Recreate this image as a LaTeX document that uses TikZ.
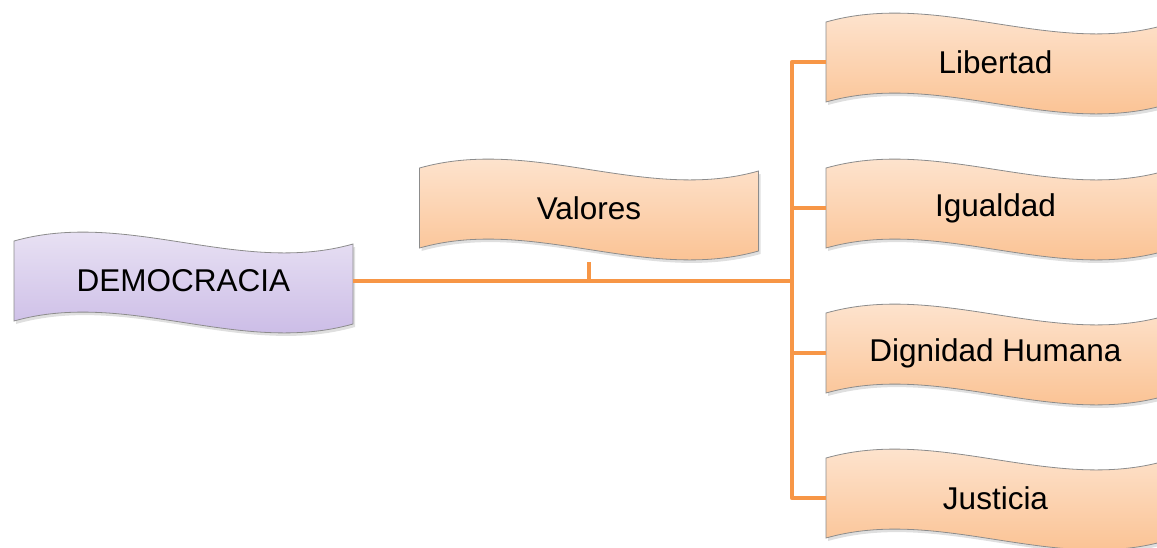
\documentclass[tikz,border=0pt]{standalone}
\usepackage{fontspec}
\setmainfont{Liberation Sans}
\usetikzlibrary{calc,shadows,backgrounds}
\definecolor{lineor}{HTML}{F79646}
\definecolor{ortop}{RGB}{254,234,218}
\definecolor{orbot}{RGB}{250,188,136}
\definecolor{putop}{RGB}{238,233,246}
\definecolor{pubot}{RGB}{198,181,228}
\tikzset{
  lbl/.style={font=\fontsize{31.5}{36}\selectfont, minimum width=339pt, minimum height=80pt, inner sep=0pt, text=black},
  conn/.style={draw=lineor, line width=4.5pt, line join=round},
  banner/.style={draw=black!45, line width=0.8pt, drop shadow={opacity=0.25, shadow xshift=2pt, shadow yshift=-3pt}},
}
\newcommand\wavebanner[3]{%
  \path[banner, top color=#2, bottom color=#3]
    ($(#1.center)+(-169.5,-40)$) .. controls +(113,-32) and +(-113,32) .. ($(#1.center)+(169.5,-37)$)
    -- ($(#1.center)+(169.5,43)$) .. controls +(-113,32) and +(113,-32) .. ($(#1.center)+(-169.5,40)$) -- cycle;}
\begin{document}
\begin{tikzpicture}[x=1pt,y=-1pt]
\useasboundingbox (0,0) rectangle (1157,547);
\node[lbl] (demo) at (183.5,281) {DEMOCRACIA};
\node[lbl] (val) at (589,208) {Valores};
\node[lbl] (lib) at (995.5,62) {Libertad};
\node[lbl] (igu) at (995.5,208) {Igualdad};
\node[lbl] (dig) at (995.5,353) {Dignidad Humana};
\node[lbl] (jus) at (995.5,498) {Justicia};
\begin{scope}[on background layer]
\wavebanner{demo}{putop}{pubot}
\wavebanner{val}{ortop}{orbot}
\wavebanner{lib}{ortop}{orbot}
\wavebanner{igu}{ortop}{orbot}
\wavebanner{dig}{ortop}{orbot}
\wavebanner{jus}{ortop}{orbot}
\end{scope}
\coordinate (j) at (792,281);
\coordinate (vs) at ($(val.south)+(0,14)$);
\draw[conn] (demo.east) -- (j);
\draw[conn] (lib.west) -- (lib.west -| j) -- (jus.west -| j) -- (jus.west);
\draw[conn] (igu.west -| j) -- (igu.west);
\draw[conn] (dig.west -| j) -- (dig.west);
\draw[conn, line width=4pt] (vs) -- (vs |- j);
\end{tikzpicture}
\end{document}
